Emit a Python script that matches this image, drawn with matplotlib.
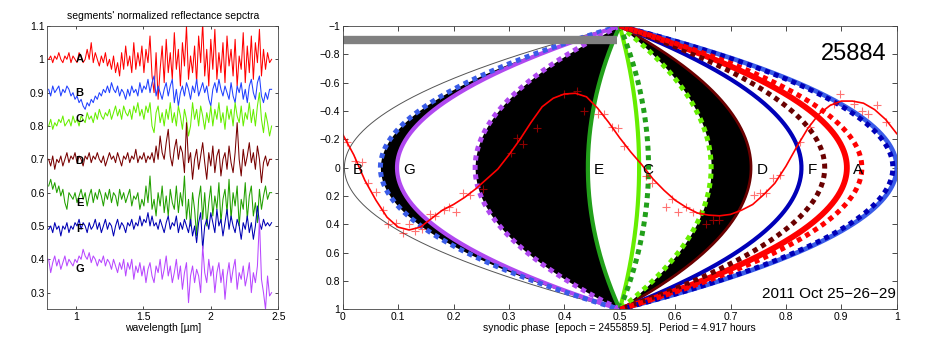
import matplotlib.pyplot as plt
import numpy as np
from matplotlib.ticker import FuncFormatter

plt.rcParams['font.family'] = ['Liberation Sans', 'DejaVu Sans']

# ---- left panel: normalized reflectance spectra of the segments ----
spec_A = [1.00, 1.01, 0.99, 1.01, 1.00, 1.02, 1.00, 0.99, 1.01, 1.00,
          1.02, 0.99, 1.01, 1.00, 0.99, 1.02, 1.01, 0.99, 1.00, 1.03,
          1.00, 1.05, 0.99, 1.02, 1.00, 0.98, 1.01, 0.99, 1.02, 0.98,
          1.00, 0.97, 1.01, 0.96, 0.99, 0.95, 1.02, 0.97, 1.04, 0.98,
          1.01, 0.96, 1.05, 0.97, 1.02, 0.98, 1.04, 0.96, 1.03, 0.99,
          1.07,
          0.95, 0.90, 1.02, 0.88, 0.97, 1.04, 0.93, 1.06, 0.96, 1.02,
          0.94, 1.08, 0.97, 1.03, 0.92, 1.05, 0.98, 1.10, 0.94, 1.01,
          0.96, 1.04, 0.93, 1.07, 0.99, 1.11, 0.95, 1.03, 0.92, 1.06,
          0.97, 1.09, 0.94, 1.02, 0.96, 1.05, 0.93, 1.07, 0.98, 1.03,
          0.95, 1.06, 0.92, 1.01, 0.97, 1.08, 0.93, 1.04, 0.96, 1.07,
          0.94, 1.05, 0.99, 1.09, 0.95, 1.03, 0.97, 1.02, 0.99, 1.00]
spec_B = [0.91, 0.89, 0.92, 0.90, 0.91, 0.92, 0.89, 0.91, 0.90, 0.92,
          0.91, 0.89, 0.90, 0.88, 0.89, 0.87, 0.88, 0.86, 0.85, 0.87,
          0.86, 0.88, 0.87, 0.89, 0.88, 0.90, 0.89, 0.91, 0.90, 0.92,
          0.90, 0.93, 0.91, 0.90, 0.92, 0.89, 0.91, 0.90, 0.88, 0.91,
          0.89, 0.92, 0.90, 0.91, 0.89, 0.93, 0.90, 0.92, 0.91, 0.94,
          0.90,
          0.93, 0.95, 0.89, 0.92, 0.90, 0.88, 0.91, 0.93, 0.89, 0.92,
          0.94, 0.87, 0.91, 0.86, 0.90, 0.92, 0.89, 0.93, 0.91, 0.88,
          0.92, 0.90, 0.94, 0.89, 0.91, 0.93, 0.90, 0.92, 0.88, 0.86,
          0.91, 0.93, 0.90, 0.94, 0.91, 0.89, 0.92, 0.90, 0.88, 0.93,
          0.89, 0.87, 0.92, 0.90, 0.93, 0.88, 0.91, 0.87, 0.92, 0.94,
          0.90, 0.88, 0.93, 0.95, 0.89, 0.87, 0.90, 0.88, 0.91, 0.91]
spec_C = [0.80, 0.82, 0.79, 0.81, 0.80, 0.82, 0.81, 0.83, 0.80, 0.81,
          0.82, 0.80, 0.83, 0.81, 0.82, 0.80, 0.83, 0.82, 0.81, 0.84,
          0.82, 0.83, 0.81, 0.84, 0.82, 0.85, 0.83, 0.82, 0.84, 0.83,
          0.85, 0.82, 0.84, 0.86, 0.83, 0.85, 0.82, 0.86, 0.84, 0.83,
          0.85, 0.82, 0.86, 0.84, 0.87, 0.83, 0.85, 0.82, 0.86, 0.84,
          0.87,
          0.80, 0.78, 0.84, 0.86, 0.81, 0.84, 0.80, 0.85, 0.82, 0.87,
          0.81, 0.84, 0.80, 0.86, 0.83, 0.79, 0.85, 0.82, 0.77, 0.80,
          0.87, 0.82, 0.85, 0.80, 0.86, 0.83, 0.79, 0.84, 0.81, 0.86,
          0.80, 0.85, 0.82, 0.87, 0.81, 0.84, 0.79, 0.86, 0.82, 0.85,
          0.80, 0.87, 0.83, 0.81, 0.86, 0.80, 0.84, 0.82, 0.87, 0.81,
          0.85, 0.80, 0.86, 0.90, 0.82, 0.78, 0.84, 0.81, 0.77, 0.80]
spec_D = [0.70, 0.68, 0.71, 0.67, 0.70, 0.69, 0.71, 0.68, 0.70, 0.72,
          0.69, 0.71, 0.70, 0.72, 0.69, 0.71, 0.70, 0.68, 0.71, 0.70,
          0.72, 0.69, 0.71, 0.70, 0.72, 0.70, 0.69, 0.71, 0.68, 0.70,
          0.72, 0.70, 0.71, 0.69, 0.72, 0.70, 0.68, 0.71, 0.70, 0.72,
          0.69, 0.71, 0.70, 0.73, 0.69, 0.71, 0.70, 0.72, 0.69, 0.71,
          0.70,
          0.72, 0.69, 0.74, 0.70, 0.77, 0.72, 0.70, 0.75, 0.79, 0.71,
          0.68, 0.73, 0.76, 0.70, 0.74, 0.72, 0.66, 0.81, 0.69, 0.72,
          0.64, 0.70, 0.73, 0.67, 0.71, 0.75, 0.69, 0.64, 0.72, 0.68,
          0.74, 0.66, 0.71, 0.73, 0.65, 0.70, 0.72, 0.67, 0.74, 0.69,
          0.66, 0.72, 0.81, 0.70, 0.65, 0.73, 0.68, 0.71, 0.75, 0.69,
          0.72, 0.67, 0.74, 0.70, 0.63, 0.69, 0.71, 0.68, 0.70, 0.70]
spec_E = [0.62, 0.64, 0.61, 0.63, 0.60, 0.62, 0.59, 0.61, 0.57, 0.55,
          0.60, 0.59, 0.58, 0.60, 0.57, 0.59, 0.61, 0.58, 0.60, 0.56,
          0.59, 0.61, 0.57, 0.60, 0.58, 0.61, 0.59, 0.56, 0.60, 0.58,
          0.61, 0.57, 0.60, 0.59, 0.56, 0.61, 0.58, 0.60, 0.57, 0.59,
          0.61, 0.56, 0.59, 0.58, 0.60, 0.55, 0.58, 0.56, 0.62, 0.57,
          0.65,
          0.55, 0.58, 0.53, 0.60, 0.56, 0.62, 0.54, 0.59, 0.53, 0.61,
          0.57, 0.55, 0.62, 0.54, 0.60, 0.56, 0.65, 0.52, 0.58, 0.50,
          0.60, 0.55, 0.47, 0.58, 0.62, 0.52, 0.60, 0.50, 0.57, 0.62,
          0.53, 0.59, 0.55, 0.63, 0.51, 0.58, 0.61, 0.54, 0.64, 0.52,
          0.60, 0.56, 0.62, 0.50, 0.58, 0.55, 0.63, 0.52, 0.59, 0.62,
          0.53, 0.57, 0.51, 0.61, 0.55, 0.59, 0.62, 0.58, 0.60, 0.60]
spec_F = [0.49, 0.50, 0.48, 0.51, 0.49, 0.50, 0.47, 0.50, 0.49, 0.51,
          0.48, 0.50, 0.49, 0.51, 0.50, 0.52, 0.49, 0.51, 0.50, 0.48,
          0.51, 0.49, 0.50, 0.52, 0.49, 0.51, 0.48, 0.50, 0.52, 0.49,
          0.51, 0.50, 0.47, 0.50, 0.52, 0.49, 0.51, 0.50, 0.48, 0.51,
          0.50, 0.52, 0.49, 0.51, 0.50, 0.53, 0.50, 0.52, 0.51, 0.54,
          0.50,
          0.53, 0.50, 0.51, 0.49, 0.52, 0.50, 0.48, 0.51, 0.53, 0.49,
          0.51, 0.50, 0.53, 0.48, 0.51, 0.49, 0.52, 0.50, 0.48, 0.52,
          0.47, 0.50, 0.45, 0.51, 0.54, 0.43, 0.50, 0.52, 0.49, 0.54,
          0.51, 0.48, 0.55, 0.50, 0.52, 0.47, 0.51, 0.55, 0.49, 0.53,
          0.50, 0.48, 0.52, 0.50, 0.46, 0.51, 0.49, 0.53, 0.48, 0.51,
          0.46, 0.50, 0.56, 0.51, 0.49, 0.52, 0.50, 0.51, 0.50, 0.51]
spec_G = [0.40, 0.36, 0.39, 0.41, 0.38, 0.40, 0.37, 0.39, 0.41, 0.38,
          0.40, 0.39, 0.38, 0.40, 0.39, 0.41, 0.40, 0.43, 0.41, 0.40,
          0.42, 0.39, 0.41, 0.40, 0.38, 0.40, 0.39, 0.41, 0.38, 0.40,
          0.39, 0.37, 0.40, 0.38, 0.36, 0.39, 0.37, 0.40, 0.35, 0.39,
          0.37, 0.40, 0.34, 0.38, 0.36, 0.39, 0.35, 0.38, 0.33, 0.37,
          0.39,
          0.35, 0.33, 0.38, 0.36, 0.40, 0.34, 0.37, 0.41, 0.35, 0.38,
          0.33, 0.36, 0.40, 0.34, 0.38, 0.31, 0.36, 0.39, 0.27, 0.35,
          0.38, 0.33, 0.37, 0.35, 0.30, 0.44, 0.36, 0.33, 0.40, 0.35,
          0.38, 0.30, 0.36, 0.39, 0.33, 0.37, 0.28, 0.35, 0.39, 0.33,
          0.37, 0.40, 0.31, 0.36, 0.34, 0.38, 0.32, 0.35, 0.39, 0.30,
          0.36, 0.33, 0.38, 0.52, 0.34, 0.30, 0.25, 0.35, 0.29, 0.30]
wl_start, wl_end = 0.80, 2.45

seg_names = ['A', 'B', 'C', 'D', 'E', 'F', 'G']
spectra = [spec_A, spec_B, spec_C, spec_D, spec_E, spec_F, spec_G]
spec_label_y = [1.00, 0.90, 0.82, 0.695, 0.57, 0.49, 0.37]
spec_colors = ['#ff0000', '#2040ff', '#66ee00', '#780000', '#22a000', '#0000b4', '#b848ff']

# ---- right panel: segment boundaries (phase where each boundary crosses y = 0) ----
solid_vertex = {'A': 0.910, 'B': 1.000, 'C': 0.535, 'D': 0.737, 'E': 0.4425, 'F': 0.828, 'G': 0.098}
dashed_vertex = {'A': 0.937, 'B': 0.068, 'C': 0.665, 'D': 0.870, 'E': 0.552, 'F': 0.993, 'G': 0.239}
seg_label_x = {'A': 0.93, 'B': 0.027, 'C': 0.55, 'D': 0.757, 'E': 0.463, 'F': 0.848, 'G': 0.12}
seg_line_colors = {'A': '#ff0000', 'B': '#3a5ce8', 'C': '#66ee00', 'D': '#6a0000',
                   'E': '#22a01a', 'F': '#0000b8', 'G': '#b048f0'}
solid_widths = {'A': 4.2, 'B': 3.4, 'C': 3.0, 'D': 2.0, 'E': 3.0, 'F': 3.0, 'G': 3.0}
black_bands = [(0.068, 0.098), (0.239, 0.4425), (0.665, 0.737)]
edge_vertex = 0.003

# light-curve fit and observed points (scaled into the panel)
fit_phase = [0.00, 0.02, 0.04, 0.06, 0.08, 0.10, 0.12, 0.14, 0.16, 0.18,
             0.20, 0.22, 0.24, 0.26, 0.28, 0.30, 0.32, 0.34, 0.36, 0.38,
             0.40, 0.42, 0.44, 0.46, 0.48, 0.50, 0.52, 0.54, 0.56, 0.58,
             0.60, 0.62, 0.64, 0.66, 0.68, 0.70, 0.72, 0.74, 0.76, 0.78,
             0.80, 0.82, 0.84, 0.86, 0.88, 0.90, 0.92, 0.94, 0.96, 0.98, 1.00]
fit_y = [-0.235, -0.09, 0.09, 0.23, 0.35, 0.42, 0.44, 0.42, 0.36, 0.30,
         0.26, 0.21, 0.15, 0.08, 0.01, -0.09, -0.20, -0.32, -0.43, -0.49,
         -0.52, -0.525, -0.50, -0.42, -0.32, -0.21, -0.11, -0.02, 0.08, 0.16,
         0.23, 0.28, 0.32, 0.335, 0.34, 0.33, 0.30, 0.26, 0.19, 0.11,
         -0.01, -0.15, -0.28, -0.38, -0.44, -0.47, -0.47, -0.455, -0.41, -0.34, -0.24]
obs_phase = [0.007, 0.022, 0.034, 0.046, 0.060, 0.072, 0.082, 0.097, 0.108, 0.120,
             0.130, 0.144, 0.158, 0.167, 0.182, 0.192, 0.205, 0.218, 0.229, 0.254,
             0.303, 0.314, 0.326, 0.351, 0.400, 0.422, 0.436, 0.460, 0.472, 0.486,
             0.497, 0.508, 0.547, 0.558, 0.584, 0.594, 0.606, 0.620, 0.632, 0.645,
             0.656, 0.669, 0.679, 0.742, 0.753, 0.764, 0.777, 0.789, 0.826, 0.844,
             0.887, 0.898, 0.923, 0.937, 0.949, 0.965, 0.981]
obs_y = [-0.18, -0.05, -0.04, 0.11, 0.17, 0.30, 0.40, 0.39, 0.46, 0.40,
         0.45, 0.43, 0.33, 0.34, 0.30, 0.28, 0.31, 0.18, 0.19, 0.15,
         -0.10, -0.21, -0.17, -0.28, -0.52, -0.54, -0.40, -0.38, -0.38, -0.29,
         -0.28, -0.15, 0.06, 0.11, 0.28, 0.22, 0.31, 0.28, 0.31, 0.32,
         0.40, 0.37, 0.37, 0.19, 0.18, 0.18, 0.07, 0.05, -0.18, -0.29,
         -0.45, -0.52, -0.45, -0.40, -0.38, -0.44, -0.32]


def boundary(v, y):
    # boundary curve through the poles (0.5, +-1) and the vertex (v, 0)
    return 0.5 + (v - 0.5) * (1 - y ** 2)


fig = plt.figure(figsize=(9.26, 3.48), dpi=100)
ax1 = fig.add_axes([0.0511, 0.1112, 0.2495, 0.8141])
ax2 = fig.add_axes([0.3701, 0.1112, 0.5983, 0.8141])

for name, spec, col, ly in zip(seg_names, spectra, spec_colors, spec_label_y):
    wl = np.linspace(wl_start, wl_end, len(spec))
    ax1.plot(wl, spec, color=col, lw=0.75)
    ax1.text(1.03, ly, name, fontsize=8, fontweight='bold', ha='center', va='center')
ax1.set_xlim(0.79, 2.5)
ax1.set_ylim(0.25, 1.1)
ax1.set_xticks([1, 1.5, 2, 2.5])
ax1.set_yticks(np.linspace(0.3, 1.1, 9))
fmt = FuncFormatter(lambda v, p: ('%g' % round(v, 3)).replace('-', '\u2212'))
ax1.xaxis.set_major_formatter(fmt)
ax1.yaxis.set_major_formatter(fmt)
ax1.tick_params(direction='in', top=True, right=True, length=2.2, width=0.5, labelsize=7.5, pad=2)
ax1.set_title("segments' normalized reflectance sepctra", fontsize=7.5, pad=5)
ax1.set_xlabel('wavelength [\u00b5m]', fontsize=7.5, labelpad=1)

# right panel
yy = np.linspace(-1, 1, 301)
for v1, v2 in black_bands:
    ax2.fill_betweenx(yy, boundary(v1, yy), boundary(v2, yy), color='k', lw=0)
ax2.plot(boundary(edge_vertex, yy), yy, color='#555555', lw=0.7)

order = ['B', 'G', 'E', 'C', 'D', 'F', 'A']
for name in order:
    col = seg_line_colors[name]
    ax2.plot(boundary(solid_vertex[name], yy), yy, color=col, lw=solid_widths[name],
             solid_capstyle='butt')
for name in order:
    col = seg_line_colors[name]
    ax2.plot(boundary(dashed_vertex[name], yy), yy, color=col, lw=3.6,
             dashes=(1.0, 0.9), dash_capstyle='butt')
for name in seg_names:
    ax2.text(seg_label_x[name], 0.02, name, fontsize=11, ha='center', va='center')

ax2.plot([0, 0.495], [-0.9, -0.9], color='#808080', lw=6, solid_capstyle='butt')
ax2.plot(fit_phase, fit_y, color='r', lw=1.2)
ax2.plot(obs_phase, obs_y, '+', color='r', ms=5.5, mew=0.8, alpha=0.55)

ax2.text(0.982, -0.8, '25884', fontsize=17, ha='right', va='center')
ax2.text(0.998, 0.895, '2011 Oct 25\u221226\u221229', fontsize=11, ha='right', va='center')

ax2.set_xlim(0, 1)
ax2.set_ylim(1, -1)
ax2.set_xticks(np.linspace(0, 1, 11))
ax2.set_yticks(np.linspace(-1, 1, 11))
ax2.xaxis.set_major_formatter(fmt)
ax2.yaxis.set_major_formatter(fmt)
ax2.tick_params(direction='in', top=True, right=True, length=3.5, width=0.5, labelsize=7.5, pad=2)
ax2.set_xlabel('synodic phase  [epoch = 2455859.5].  Period = 4.917 hours', fontsize=7.5, labelpad=1)

for ax in (ax1, ax2):
    for s in ax.spines.values():
        s.set_linewidth(0.6)
        s.set_color('#444444')

fig.savefig('out.png', dpi=100)
